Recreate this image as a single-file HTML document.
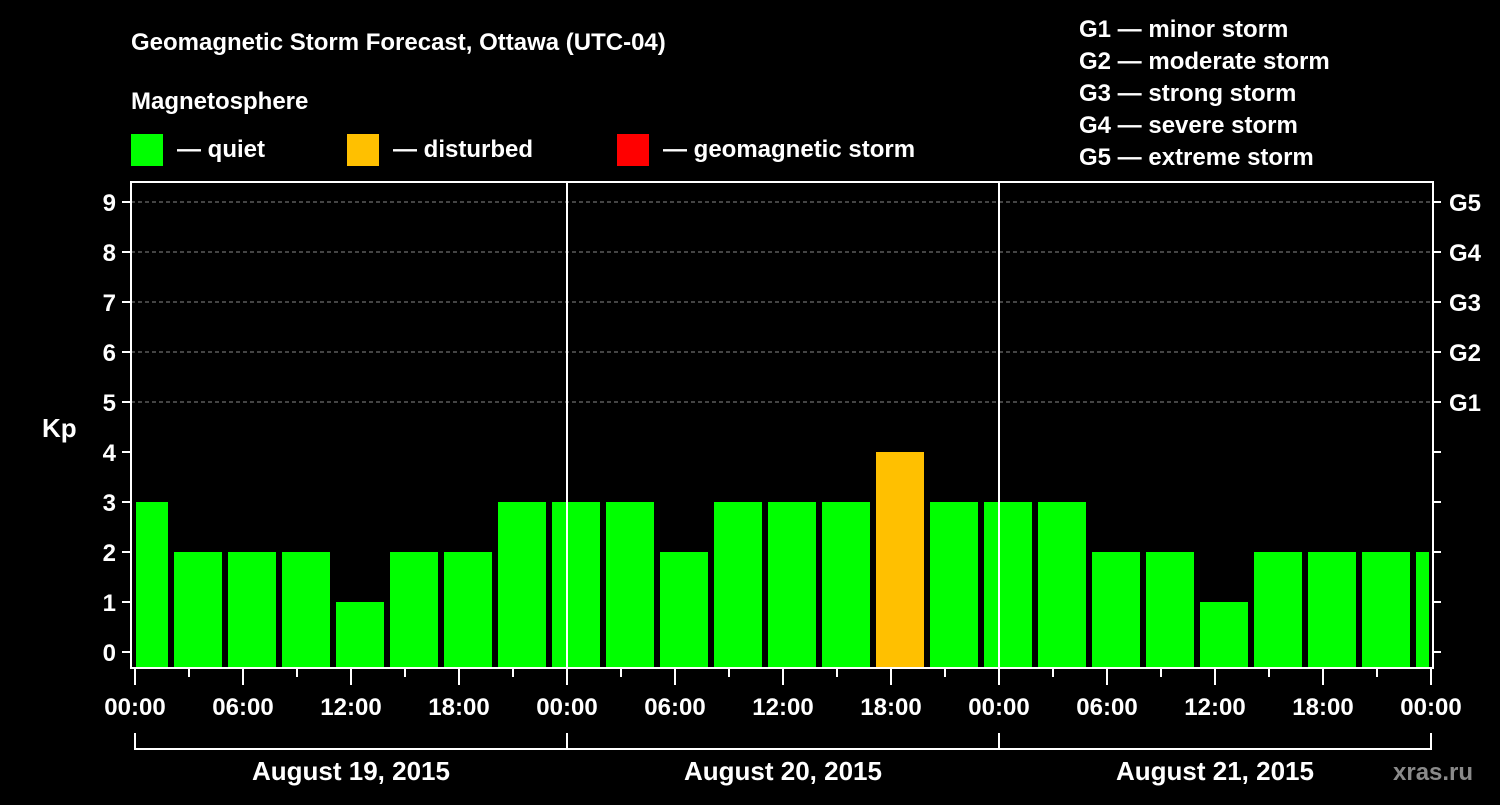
<!DOCTYPE html>
<html><head><meta charset="utf-8"><style>
body{margin:0;background:#000;}
svg text{font-family:"Liberation Sans",sans-serif;font-weight:bold;fill:#fff;}
</style></head><body>
<svg id="c" width="1500" height="800" xmlns="http://www.w3.org/2000/svg">
<rect width="1500" height="800" fill="#000"/>
<text x="131" y="50" font-size="24">Geomagnetic Storm Forecast, Ottawa (UTC-04)</text>
<text x="131" y="109" font-size="24">Magnetosphere</text>
<rect x="131" y="134" width="32" height="32" fill="#00ff00"/>
<text x="177" y="157" font-size="24">— quiet</text>
<rect x="347" y="134" width="32" height="32" fill="#ffc000"/>
<text x="393" y="157" font-size="24">— disturbed</text>
<rect x="617" y="134" width="32" height="32" fill="#ff0000"/>
<text x="663" y="157" font-size="24">— geomagnetic storm</text>
<g font-size="24">
<text x="1079" y="37">G1 — minor storm</text>
<text x="1079" y="69">G2 — moderate storm</text>
<text x="1079" y="101">G3 — strong storm</text>
<text x="1079" y="133">G4 — severe storm</text>
<text x="1079" y="165">G5 — extreme storm</text>
</g>
<text x="42" y="437" font-size="26">Kp</text>
<text x="1393" y="780" font-size="24" fill="#888" style="fill:#8a8a8a">xras.ru</text>
<g id="g"></g>
</svg>
<script>
const kpValues=[3,2,2,2,1,2,2,3,3,3,2,3,3,3,4,3,3,3,2,2,1,2,2,2,2];
const yTicks=[0,1,2,3,4,5,6,7,8,9];
const gLabels=["G1","G2","G3","G4","G5"];
const xTickLabels=["00:00","06:00","12:00","18:00","00:00","06:00","12:00","18:00","00:00","06:00","12:00","18:00","00:00"];
const days=["August 19, 2015","August 20, 2015","August 21, 2015"];
const NS="http://www.w3.org/2000/svg";
const g=document.getElementById('g');
const L=131,R=1433,T=182,B=668,X0=135,PXH=18;
const y=v=>652-50*v;
const x=h=>X0+PXH*h;
function mk(t,a,txt){const e=document.createElementNS(NS,t);for(const k in a)e.setAttribute(k,a[k]);if(txt!=null)e.textContent=txt;g.appendChild(e);return e;}
// gridlines
for(let v=5;v<=9;v++){const e=mk('line',{x1:L,x2:R,y1:y(v),y2:y(v),stroke:'#888','stroke-dasharray':'4,3','stroke-width':1});

}
// bars
kpValues.forEach((v,i)=>{let x1=x(3*i)-15,x2=x1+48;x1=Math.max(x1,X0+1);x2=Math.min(x2,R-4);
const col=v>=5?'#ff0000':(v>=4?'#ffc000':'#00ff00');
const e=mk('rect',{x:x1,y:y(v),width:x2-x1,height:B-y(v),fill:col});

});
// day separators
[1,2].forEach(d=>{const e=mk('line',{x1:x(24*d),x2:x(24*d),y1:T,y2:B,stroke:'#fff','stroke-width':2});

});
// frame
const f=mk('rect',{x:L,y:T,width:R-L,height:B-T,fill:'none',stroke:'#fff','stroke-width':2});


// y ticks
yTicks.forEach(v=>{mk('line',{x1:122,x2:L,y1:y(v),y2:y(v),stroke:'#fff','stroke-width':2});
mk('line',{x1:R,x2:1441,y1:y(v),y2:y(v),stroke:'#fff','stroke-width':2});
const t=mk('text',{x:116,y:y(v)+9,'font-size':24,'text-anchor':'end'},String(v));

});
gLabels.forEach((s,i)=>{const t=mk('text',{x:1449,y:y(5+i)+9,'font-size':24},s);

});
// x ticks
for(let h=0;h<=72;h+=3){const major=h%6===0;mk('line',{x1:x(h),x2:x(h),y1:B+1,y2:B+(major?17:9),stroke:'#fff','stroke-width':2});}
xTickLabels.forEach((s,i)=>{const t=mk('text',{x:x(6*i),y:715,'font-size':24,'text-anchor':'middle'},s);

});
// date bracket
const br=mk('line',{x1:x(0),x2:x(72),y1:749,y2:749,stroke:'#fff','stroke-width':2});


for(let d=0;d<=3;d++)mk('line',{x1:x(24*d),x2:x(24*d),y1:733,y2:750,stroke:'#fff','stroke-width':2});
days.forEach((s,i)=>{const t=mk('text',{x:x(24*i+12),y:780,'font-size':26,'text-anchor':'middle'},s);

});
</script>
</body></html>
